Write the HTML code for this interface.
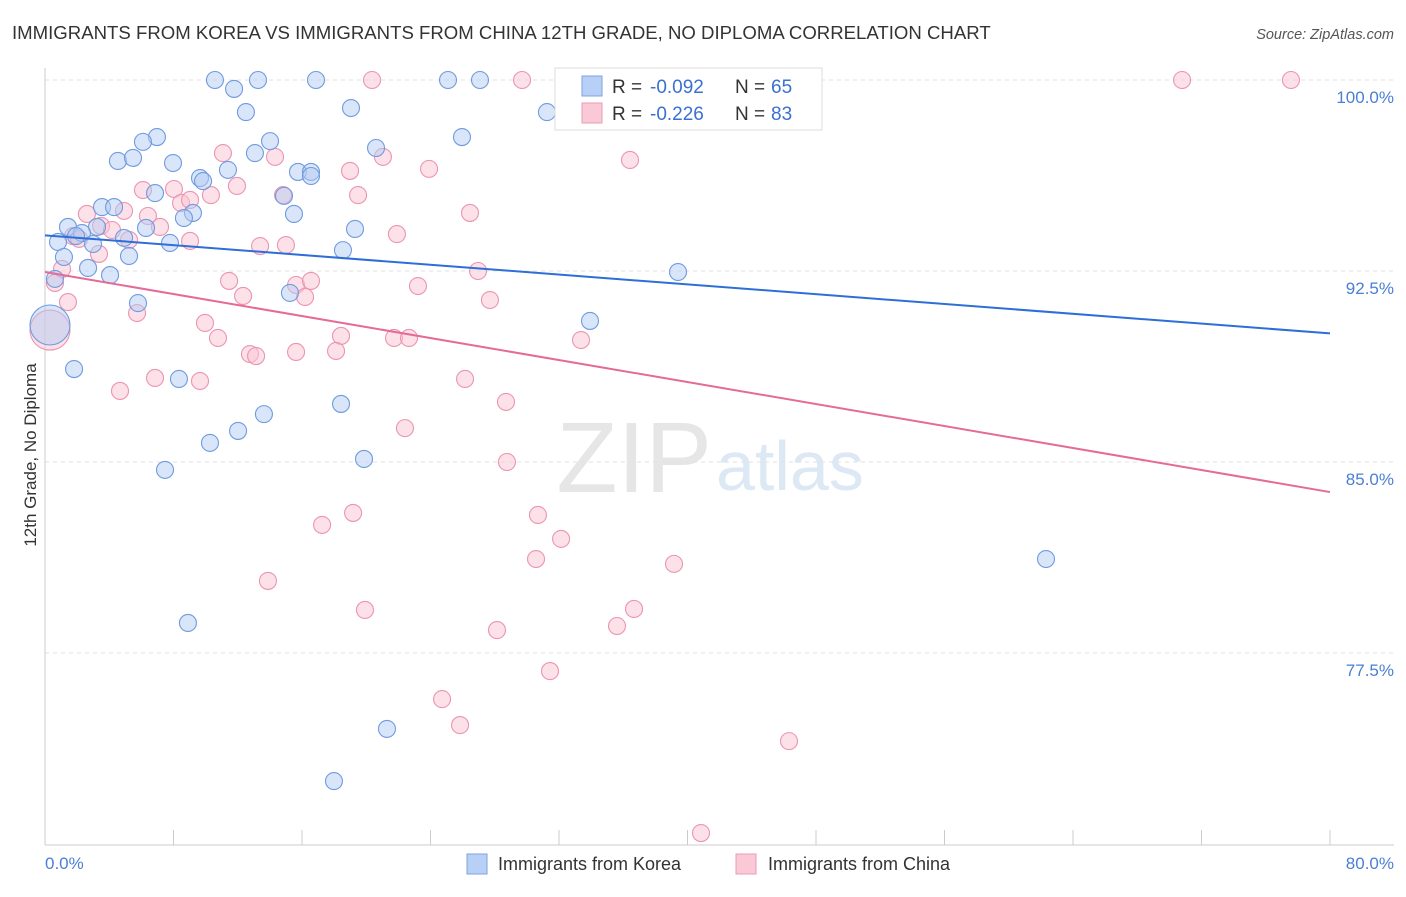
<!DOCTYPE html>
<html><head><meta charset="utf-8"><style>
body{margin:0;background:#fff;font-family:"Liberation Sans",sans-serif;}
svg text{font-family:"Liberation Sans",sans-serif;}
</style></head><body>
<svg id="chart" width="1406" height="892" viewBox="0 0 1406 892">
<text x="12" y="39" font-size="18.6" fill="#333">IMMIGRANTS FROM KOREA VS IMMIGRANTS FROM CHINA 12TH GRADE, NO DIPLOMA CORRELATION CHART</text>
<text x="1394" y="39" font-size="14.5" fill="#555" font-style="italic" text-anchor="end">Source: ZipAtlas.com</text>
<text x="712" y="492" font-size="100" fill="#e6e6e6" text-anchor="end" font-family="Liberation Serif">ZIP</text>
<text x="716" y="490" font-size="70" fill="#dde8f5">atlas</text>
<g id="grid"></g>
<g id="axes"></g>
<g id="points"></g>
<g id="trends"></g>
<text x="36" y="455" font-size="17" fill="#333" text-anchor="middle" transform="rotate(-90 36 455)">12th Grade, No Diploma</text>
<text x="45" y="869" font-size="17" fill="#4a7fd4">0.0%</text>
<text x="1394" y="869" font-size="17" fill="#4a7fd4" text-anchor="end">80.0%</text>
<g>
<rect x="555" y="68" width="267" height="62" fill="#fff" stroke="#ddd"/>
<rect x="582" y="76" width="20" height="20" fill="#b8d0f5" stroke="#7aa3e0"/>
<rect x="582" y="103" width="20" height="20" fill="#f9c9d8" stroke="#ec9ab5"/>
<text x="612" y="93" font-size="19" fill="#333">R =</text>
<text x="650" y="93" font-size="19" fill="#3a70d0">-0.092</text>
<text x="735" y="93" font-size="19" fill="#333">N =</text>
<text x="771" y="93" font-size="19" fill="#3a70d0">65</text>
<text x="612" y="120" font-size="19" fill="#333">R =</text>
<text x="650" y="120" font-size="19" fill="#3a70d0">-0.226</text>
<text x="735" y="120" font-size="19" fill="#333">N =</text>
<text x="771" y="120" font-size="19" fill="#3a70d0">83</text>
</g>
<g>
<rect x="467" y="854" width="20" height="20" fill="#b8d0f5" stroke="#7aa3e0"/>
<text x="498" y="870" font-size="18" fill="#333">Immigrants from Korea</text>
<rect x="736" y="854" width="20" height="20" fill="#f9c9d8" stroke="#ec9ab5"/>
<text x="768" y="870" font-size="18" fill="#333">Immigrants from China</text>
</g>
</svg>
<script>
const yTicks=[100,92.5,85,77.5];
const yTickLabels=["100.0%","92.5%","85.0%","77.5%"];
const koreaX=[10.58,13.26,16.87,25.09,27.08,11.77,19.05,12.51,31.25,25.96,6.97,6.10,14.01,20.61,4.54,5.48,7.97,13.07,11.39,9.65,9.84,15.75,16.56,16.56,6.85,14.88,3.55,4.30,9.21,8.65,15.50,1.43,3.24,2.30,6.29,19.30,0.81,1.93,4.92,2.99,7.78,18.55,1.18,5.23,2.68,4.05,39.41,0.62,5.79,15.25,33.93,0.31,1.81,8.34,18.43,13.63,12.02,10.27,19.86,7.47,62.32,8.90,21.29,17.99];
const koreaY=[100,100,100,100,100,99.65,98.9,98.74,98.74,97.76,97.76,97.57,97.6,97.33,96.82,96.94,96.74,97.13,96.47,96.15,96.03,96.39,96.39,96.23,95.56,95.45,95.01,95.01,94.78,94.58,94.74,94.23,94.23,93.99,94.19,94.15,93.64,93.87,93.80,93.56,93.60,93.32,93.05,93.09,92.62,92.34,92.46,92.19,91.24,91.64,90.54,90.38,88.65,88.26,87.28,86.88,86.22,85.75,85.12,84.69,81.19,78.68,74.52,72.47];
const chinaX=[20.36,29.70,32.93,70.79,77.57,11.08,14.32,21.04,36.42,18.99,23.91,11.95,8.03,6.10,19.49,10.33,14.82,8.47,9.03,4.92,26.46,2.61,6.41,3.49,7.16,1.74,4.17,5.23,9.03,2.12,13.39,15.00,21.91,1.06,3.36,26.96,15.63,16.56,11.46,23.22,12.33,16.19,1.43,27.70,5.73,0.62,9.96,18.43,10.77,21.73,22.66,33.37,0.31,12.76,13.14,15.63,18.12,6.85,9.65,26.15,4.67,28.70,22.41,28.76,19.18,17.25,30.69,32.13,30.57,39.16,13.88,19.92,36.67,35.61,28.14,31.44,24.72,25.84,46.32,40.84];
const chinaY=[100,100,100,100,100,97.13,96.98,96.98,96.86,96.43,96.51,95.84,95.72,95.68,95.48,95.48,95.48,95.17,95.29,94.86,94.78,94.74,94.66,94.27,94.23,93.87,94.11,93.72,93.68,93.76,93.48,93.52,93.95,92.58,93.17,92.50,91.95,92.11,92.11,91.91,91.52,91.48,91.28,91.36,90.85,92.03,90.46,89.95,89.87,89.87,89.87,89.79,90.18,89.24,89.16,89.32,89.36,88.30,88.18,88.26,87.79,87.36,86.33,85.00,83.00,82.53,82.92,81.98,81.19,81.00,80.33,79.19,79.23,78.56,78.40,76.79,75.69,74.67,74.04,70.43];
const koreaTrend=[93.90,90.05];
const chinaTrend=[92.46,83.82];
const NS="http://www.w3.org/2000/svg";
function sx(v){return 45+v/80*1285;}
function sy(v){return 80+(100-v)/7.5*191;}
function mk(tag,attrs,parent){const e=document.createElementNS(NS,tag);for(const k in attrs)e.setAttribute(k,attrs[k]);parent.appendChild(e);return e;}
const grid=document.getElementById('grid'),axes=document.getElementById('axes'),pts=document.getElementById('points'),tr=document.getElementById('trends');
yTicks.forEach((t,i)=>{
 const l=mk('line',{x1:45,x2:1394,y1:sy(t),y2:sy(t),stroke:'#e2e2e2','stroke-dasharray':'4,4'},grid);
 
 
 const tx=mk('text',{x:1394,y:sy(t)+23,'font-size':17,fill:'#4a7fd4','text-anchor':'end'},axes);
 tx.textContent=yTickLabels[i];
 
 
});
const ya=mk('line',{x1:45,x2:45,y1:68,y2:845,stroke:'#ccc'},axes);


const xa=mk('line',{x1:45,x2:1394,y1:845,y2:845,stroke:'#ccc'},axes);


for(let i=0;i<=10;i++){
 const t=mk('line',{x1:sx(i*8),x2:sx(i*8),y1:830,y2:845,stroke:'#ccc'},axes);
 
 
}
function drawSeries(X,Y,fill,stroke,name){
 X.forEach((x,i)=>{
  const r=(x<0.5&&Y[i]>90&&Y[i]<90.5)?20:8.5;
  const c=mk('circle',{cx:sx(x),cy:sy(Y[i]),r:r,fill:fill,'fill-opacity':0.5,stroke:stroke,'stroke-width':1.1},pts);
  
  
 });
}
drawSeries(chinaX,chinaY,'#f9c3d4','#ec94b2','china-point');
drawSeries(koreaX,koreaY,'#b3ccf2','#6f9be0','korea-point');
const kl=mk('line',{x1:sx(0),x2:sx(80),y1:sy(koreaTrend[0]),y2:sy(koreaTrend[1]),stroke:'#2d6fd6','stroke-width':2},tr);


const cl=mk('line',{x1:sx(0),x2:sx(80),y1:sy(chinaTrend[0]),y2:sy(chinaTrend[1]),stroke:'#e56a98','stroke-width':2},tr);


</script>
</body></html>
